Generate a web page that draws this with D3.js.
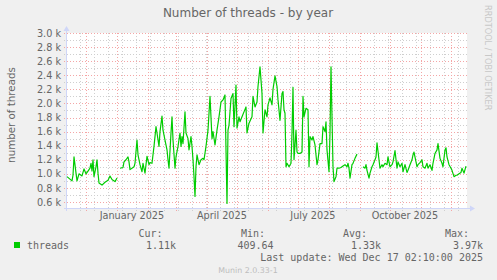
<!DOCTYPE html>
<html>
<head>
<meta charset="utf-8">
<script src="https://cdn.jsdelivr.net/npm/d3@7"></script>
<style>
  body { margin: 0; background: #f0f0f0; }
  svg { display: block; }
  text { font-family: "DejaVu Sans", sans-serif; fill: #666; }
  .mono { font-family: "DejaVu Sans Mono", monospace; }
</style>
</head>
<body>
<div id="chart"></div>
<script>
// Data: day offset from the start of the 400 day window, thread count
// null marks a hole in the series
const dayOffsets = [
  0, 5, 6, 7, 9, 10, 12, 15, 17, 19, 21, 23, 24, 25, 26, 27, 29, 30, 31, 32,
  35, 38, 41, 43, 45, 46, 48, 50, 51,
  53, 56, 57, 59, 61, 62, 63, 66, 67, 68, 70, 71, 73, 75, 76, 78, 79, 80, 82, 83,
  85, 87, 89, 90, 92, 93, 95, 96, 98, 100, 101, 102, 104, 105, 106, 108, 109, 111, 113, 114,
  115, 116, 118, 119, 121, 122, 124, 125, 126, 127, 128, 129, 130, 132, 134, 136, 137, 139, 141, 143,
  145, 146, 148, 150, 152, 154, 156, 158, 159, 160, 161, 162, 164, 166, 167, 169, 170, 172, 173, 175,
  177, 179, 180, 182, 185, 186, 188, 190, 191, 193, 195, 196, 198, 200, 201, 203, 205, 206, 208, 210,
  211, 213, 215, 216, 217, 218, 219, 220, 222, 224, 225, 226, 227, 229, 230, 231, 233, 235, 236, 237,
  239, 241, 242, 243, 245, 246, 248, 250, 251, 253, 255, 256, 258, 259, 260, 262, 263, 264, 265, 266,
  267, 269, 270, 272, 274, 276, 278, 280, 281, 282, 283, 285, 286, 288, 290, 292,
  296, 298, 299, 300, 302, 303, 305, 306, 308, 309, 310, 312, 313, 315, 316, 318, 320, 321, 323, 325,
  326, 328, 330, 331, 333, 335, 336, 338, 340, 341, 343, 345, 346, 347, 349, 350, 351, 353, 355, 356,
  358, 360, 361, 363, 365, 366, 368, 370, 371, 373, 375, 376, 378, 379, 380, 382, 384, 385, 387, 389,
  390, 392, 394, 395, 397, 399
];
const threadCounts = [
  960, 900, 980, 1240, 1010, 900, 1000, 970, 1070, 1000, 1040, 1080, 1150, 1040, 1200, 960, 1100, 1200, 1010, 870,
  840, 880, 910, 970, 920, 910, 890, 940, null,
  1080, 1090, 1170, 1200, 1240, 1170, 1060, 1090, 1100, 1150, 1480, 1270, 1130, 1030, 1150, 1010, 1130, 1250, 1130, 1160,
  1150, 1390, 1670, 1580, 1390, 1600, 1820, 1620, 1480, 1340, 1200, 1080, 1580, 1810, 1480, 1080, 1240, 1390, 1580, 1390,
  1530, 1430, 1880, 1580, 1500, 1340, 1530, 1390, 1200, 960, 680, 1100, 1270, 1130, 1200, 1220, 1200, 1390, 1620, 2100,
  1500, 1600, 1410, 1620, 1810, 2020, 2050, 2120, 1340, 580, 1620, 1690, 2070, 2140, 1670, 2260, 1650, 1810, 1740, 1810,
  1880, 1950, 1580, 1720, 1810, 2100, 1950, 2020, 2240, 2520, 2140, 1580, 1910, 1810, 1980, 2080, 1980, 2200, 2390, 2240,
  2050, 1760, 2140, 2170, 1910, 1860, 1100, 1150, 1100, 1150, 1580, 2230, 1200, 1620, 1310, 1290, 1290, 1310, 2100, 1810,
  1930, 1910, 1100, 1530, 1480, 1530, 1410, 1130, 1200, 1430, 1430, 1670, 1600, 1740, 1340, 1030, 1580, 2520, 1810, 1100,
  890, 960, 1080, 1080, 1090, 1110, 1130, 1100, 1150, 1080, 940, 1130, 1150, 1220, 1280, null,
  1100, 1080, 1130, 1050, 940, 1010, 1100, 1130, 1200, 1240, 1440, 1200, 1080, 1130, 1100, 1150, 1130, 1240, 1100, 1130,
  1170, 1330, 1080, 1170, 1100, 1150, 1030, 1130, 1020, 1050, 1130, 1200, 1270, 1310, 1170, 1100, 1130, 1160, 1200, 1100,
  1080, 1150, 1080, 1130, 1050, 1150, 1290, 1340, 1430, 1220, 1150, 1100, 1340, 1370, 1240, 1130, 1080, 1050, 960, 980,
  980, 1000, 1020, 1080, 1010, 1110
];

const monthLabels = ["January 2025", "April 2025", "July 2025", "October 2025"];
const labelMonths = [0, 3, 6, 9]; // 2025 month index of each label
const yTickValues = [600, 700, 800, 900, 1000, 1100, 1200, 1300, 1400, 1500, 1600, 1700, 1800,
  1900, 2000, 2100, 2200, 2300, 2400, 2500, 2600, 2700, 2800, 2900, 3000];
const legendHeads = ["Cur:", "Min:", "Avg:", "Max:"];
const legendValues = ["1.11k", "409.64", "1.33k", "3.97k"];

// Layout
const width = 497, height = 280;
const plot = { left: 67, right: 467, top: 33, bottom: 208 };
const lineColor = "#00cc00";
const axisColor = "#cfd6f8";
const gridColor = "#cfcfcf";
const mgridColor = "#f4a6a6";
const DAY = 86400000;

const end = new Date(Date.UTC(2025, 11, 17, 2, 10));
const start = new Date(end.getTime() - 400 * DAY);

const x = d3.scaleUtc().domain([start, end]).range([plot.left, plot.right]);
const y = d3.scaleLinear().domain([515, 3000]).range([plot.bottom, plot.top]);

const points = dayOffsets.map((d, i) => ({
  t: new Date(start.getTime() + d * DAY),
  v: threadCounts[i]
}));

const svg = d3.select("#chart").append("svg")
  .attr("width", width)
  .attr("height", height);

svg.append("rect").attr("width", width).attr("height", height).attr("fill", "#f0f0f0");
svg.append("rect")
  .attr("x", plot.left).attr("y", plot.top)
  .attr("width", plot.right - plot.left).attr("height", plot.bottom - plot.top)
  .attr("fill", "#fff");

const px = v => Math.round(v) + 0.5;

// minor vertical grid every two weeks, then month lines
const weeks = d3.utcMonday.range(d3.utcMonday.floor(start), end, 2).filter(d => d >= start);
svg.append("g").selectAll("line")
  .data(weeks)
  .join("line")
  .attr("x1", d => px(x(d))).attr("x2", d => px(x(d)))
  .attr("y1", plot.top).attr("y2", plot.bottom + 3)
  .attr("stroke", gridColor)
  .attr("stroke-dasharray", "1,2");

// horizontal grid
svg.append("g").selectAll("line")
  .data(yTickValues)
  .join("line")
  .attr("x1", plot.left - 3).attr("x2", plot.right + 1)
  .attr("y1", d => px(y(d))).attr("y2", d => px(y(d)))
  .attr("stroke", d => d % 200 === 0 ? mgridColor : gridColor)
  .attr("stroke-dasharray", "1,2");

const months = d3.utcMonth.range(start, end);
svg.append("g").selectAll("line")
  .data(months)
  .join("line")
  .attr("x1", d => px(x(d))).attr("x2", d => px(x(d)))
  .attr("y1", plot.top).attr("y2", plot.bottom + 3)
  .attr("stroke", mgridColor)
  .attr("stroke-dasharray", "1,2");

// axes with arrows
svg.append("line")
  .attr("x1", plot.left - 3).attr("x2", plot.right + 4)
  .attr("y1", plot.bottom + 0.5).attr("y2", plot.bottom + 0.5)
  .attr("stroke", axisColor);
svg.append("path")
  .attr("d", `M${plot.right + 3},${plot.bottom - 2.5}L${plot.right + 8},${plot.bottom + 0.5}L${plot.right + 3},${plot.bottom + 3.5}Z`)
  .attr("fill", axisColor);
svg.append("line")
  .attr("x1", plot.left - 0.5).attr("x2", plot.left - 0.5)
  .attr("y1", plot.bottom + 3).attr("y2", plot.top - 3)
  .attr("stroke", axisColor);
svg.append("path")
  .attr("d", `M${plot.left - 3.5},${plot.top - 2}L${plot.left - 0.5},${plot.top - 7}L${plot.left + 2.5},${plot.top - 2}Z`)
  .attr("fill", axisColor);

// the series
const line = d3.line()
  .defined(d => d.v !== null)
  .x(d => x(d.t))
  .y(d => y(d.v));

svg.append("path")
  .datum(points)
  .attr("d", line)
  .attr("fill", "none")
  .attr("stroke", lineColor)
  .attr("stroke-width", 1.2)
  .attr("stroke-linejoin", "round");

// y tick labels
svg.append("g").selectAll("text")
  .data(yTickValues.filter(v => v % 200 === 0))
  .join("text")
  .attr("x", 61)
  .attr("y", d => y(d) + 3.6)
  .attr("text-anchor", "end")
  .style("font-size", "9.7px")
  .text(d => d3.format(".1f")(d / 1000) + " k");

// x labels, centred on their month
svg.append("g").selectAll("text")
  .data(labelMonths)
  .join("text")
  .attr("x", m => x(new Date(Date.UTC(2025, m, 1) + 15 * DAY)))
  .attr("y", 219)
  .attr("text-anchor", "middle")
  .style("font-size", "9.7px")
  .text((m, i) => monthLabels[i]);

// title, unit, watermark
svg.append("text")
  .attr("x", 248).attr("y", 17)
  .attr("text-anchor", "middle")
  .style("font-size", "12px")
  .text("Number of threads - by year");

svg.append("text")
  .attr("transform", "translate(15,115) rotate(-90)")
  .attr("text-anchor", "middle")
  .style("font-size", "10.3px")
  .text("number of threads");

svg.append("text")
  .attr("transform", "translate(485,5) rotate(90)")
  .style("font-size", "8.2px")
  .style("fill", "#c8c8c8")
  .text("RRDTOOL / TOBI OETIKER");

// legend
svg.append("rect")
  .attr("x", 14).attr("y", 242)
  .attr("width", 6).attr("height", 6)
  .attr("fill", lineColor);
svg.append("text")
  .attr("class", "mono")
  .attr("x", 27).attr("y", 249)
  .style("font-size", "10px")
  .text("threads");

const headEnds = [162.5, 265, 367, 469];
const valueEnds = [176, 273.5, 381, 483];
svg.append("g").selectAll("text")
  .data(legendHeads)
  .join("text")
  .attr("class", "mono")
  .attr("x", (d, i) => headEnds[i])
  .attr("y", 237)
  .attr("text-anchor", "end")
  .style("font-size", "10px")
  .text(d => d);
svg.append("g").selectAll("text")
  .data(legendValues)
  .join("text")
  .attr("class", "mono")
  .attr("x", (d, i) => valueEnds[i])
  .attr("y", 249)
  .attr("text-anchor", "end")
  .style("font-size", "10px")
  .text(d => d);

svg.append("text")
  .attr("class", "mono")
  .attr("x", 483).attr("y", 261)
  .attr("text-anchor", "end")
  .style("font-size", "10px")
  .text("Last update: Wed Dec 17 02:10:00 2025");

svg.append("text")
  .attr("x", 248).attr("y", 272.5)
  .attr("text-anchor", "middle")
  .style("font-size", "7.9px")
  .style("fill", "#bdbdbd")
  .text("Munin 2.0.33-1");
</script>
</body>
</html>
